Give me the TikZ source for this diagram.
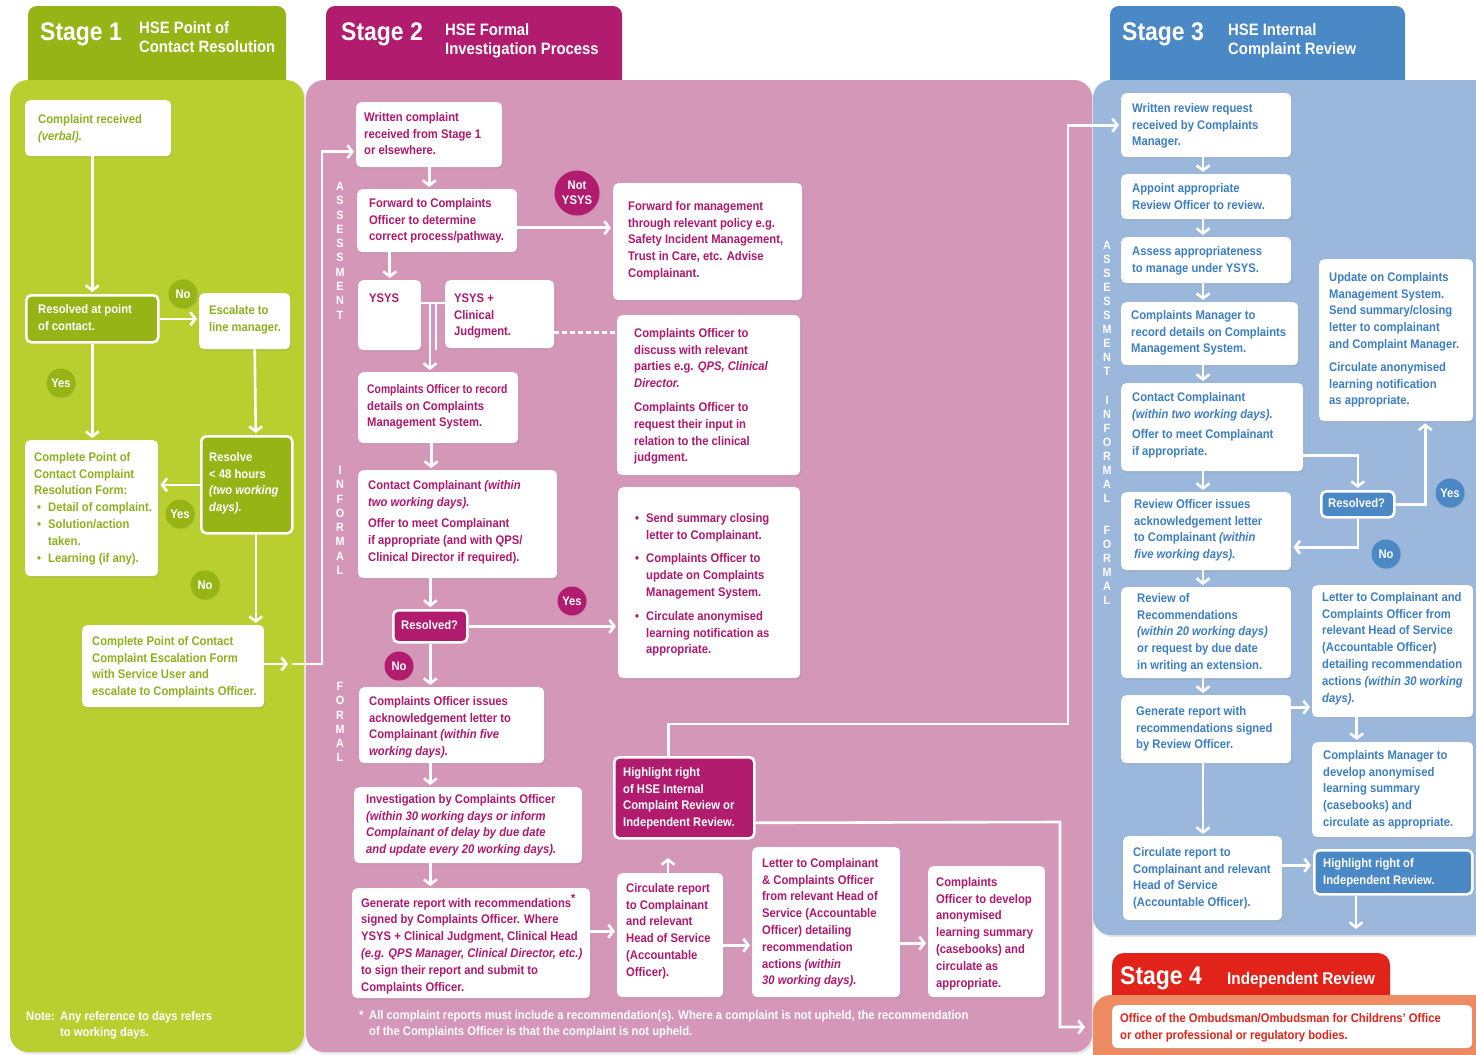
\documentclass[tikz,border=0pt]{standalone}
\usepackage{fontspec}
\setmainfont{Liberation Sans}[FakeStretch=0.9]
\usetikzlibrary{arrows.meta,calc,shadows}
\definecolor{c1h}{HTML}{97B416}
\definecolor{c1p}{HTML}{B9CF30}
\definecolor{c1t}{HTML}{8FB01E}
\definecolor{c2h}{HTML}{B21C6E}
\definecolor{c2p}{HTML}{D597B8}
\definecolor{c2t}{HTML}{B0186C}
\definecolor{c3h}{HTML}{4A88C6}
\definecolor{c3p}{HTML}{9BB7DC}
\definecolor{c3t}{HTML}{3C7EC3}
\definecolor{c4h}{HTML}{E2231A}
\definecolor{c4p}{HTML}{EE8B62}
\definecolor{c4t}{HTML}{E2231A}
\newcommand\bodyfont{\bfseries\fontsize{12.5}{16.8}\selectfont}
\newcommand\bl[1]{\makebox[14pt][l]{\hspace{3pt}\textbullet}#1}
\newcommand\ind{\hspace*{14pt}}
\def\tcol{c1t}
% box: [style]{name}{x1}{y1}{x2}{y2}{dx}{dy}{text}
\newcommand\mybox[9][]{%
  \node[wb,#1,minimum width={#5-#3},minimum height={#6-#4},anchor=north west] (#2) at (#3,#4) {};
  \node[bt,anchor=north west] (#2-t) at ({#3+#7},{#4+#8-11.76}) {\strut #9};
}
\begin{document}
\begin{tikzpicture}[x=1pt,y=-1pt,
  wb/.style={fill=white, rounded corners=5pt, inner sep=0pt, drop shadow={opacity=0.18, shadow xshift=1.2pt, shadow yshift=-1.5pt}},
  db/.style={draw=white, line width=2.6pt},
  bt/.style={inner sep=0pt, align=left, text=\tcol, font=\bodyfont},
  arr/.style={draw=white, line width=2.6pt, -{Straight Barb[length=5pt,width=13pt]}, shorten >=2pt},
  ln/.style={draw=white, line width=2.6pt},
  dsh/.style={draw=white, line width=2.6pt, dash pattern=on 5pt off 3pt},
  circ/.style={circle, minimum size=29pt, inner sep=0pt, text=white, align=center, font=\bodyfont, drop shadow={opacity=0.15, shadow xshift=1pt, shadow yshift=-1pt}},
  vlab/.style={inner sep=0pt, align=center, text=white, font=\bfseries\fontsize{12}{14.3}\selectfont, anchor=north},
  vlabb/.style={vlab, font=\bfseries\fontsize{12}{14}\selectfont},
  hbig/.style={inner sep=0pt, text=white, anchor=base west, font=\bfseries\fontsize{25.5}{30}\selectfont},
  hsub/.style={inner sep=0pt, text=white, anchor=north west, align=left, font=\bfseries\fontsize{16.5}{19}\selectfont},
  wtxt/.style={inner sep=0pt, text=white, anchor=north west, align=left, font=\bodyfont},
  pshadow/.style={drop shadow={opacity=0.2, shadow xshift=2pt, shadow yshift=-2pt}}
]
\useasboundingbox (0,0) rectangle (1476,1055);
\fill[white] (0,0) rectangle (1476,1055);

% ---------- headers ----------
\fill[c1h, rounded corners=9pt] (28,6) rectangle (286,100);
\fill[c2h, rounded corners=9pt] (326,6) rectangle (622,100);
\fill[c3h, rounded corners=9pt] (1110,6) rectangle (1405,100);
% ---------- panels ----------
\fill[c1p, rounded corners=18pt, pshadow] (10,80) rectangle (304,1052);
\fill[c2p, rounded corners=18pt, pshadow] (306,80) rectangle (1092,1052);
\fill[c3p, rounded corners=18pt, pshadow] (1093,80) rectangle (1530,935);
\fill[c4h, rounded corners=12pt] (1112,953) rectangle (1390,1010);
\fill[c4p, rounded corners=18pt] (1093,995) rectangle (1530,1075);

% header texts
\node[hbig] (h1a) at (40,40) {Stage 1};
\node[hsub] (h1b) at (139,19.7) {\strut HSE Point of\\Contact Resolution};
\node[hbig] (h2a) at (341,40) {Stage 2};
\node[hsub] (h2b) at (445,21.7) {\strut HSE Formal\\Investigation Process};
\node[hbig] (h3a) at (1122,40) {Stage 3};
\node[hsub] (h3b) at (1228,21.7) {\strut HSE Internal\\Complaint Review};
\node[hbig] (h4a) at (1120,984) {Stage 4};
\node[inner sep=0pt, text=white, anchor=base west, font=\bfseries\fontsize{17}{19}\selectfont] (h4b) at (1227,984) {Independent Review};

% ================= STAGE 1 =================
\def\tcol{c1t}
\mybox{c1}{25}{100}{171}{156}{13}{23}{Complaint received\\\textit{(verbal).}}
{\def\tcol{white}\mybox[db,fill=c1h]{r1}{25}{294}{157}{341}{13}{19}{Resolved at point\\of contact.}}
\mybox{e1}{199}{293}{290}{349}{10}{21}{Escalate to\\line manager.}
\mybox{f1}{25}{440}{158}{576}{9}{21}{Complete Point of\\Contact Complaint\\Resolution Form:\\\bl{Detail of complaint.}\\\bl{Solution/action}\\\ind taken.\\\bl{Learning (if any).}}
{\def\tcol{white}\mybox[db,fill=c1h]{rs}{200}{435}{291}{532}{9}{26}{Resolve\\< 48 hours\\\textit{(two working}\\\textit{days).}}}
\mybox{esc}{82}{625}{264}{707}{10}{20}{Complete Point of Contact\\Complaint Escalation Form\\with Service User and\\escalate to Complaints Officer.}

\node[circ,fill=c1h] (no1) at (183,294) {No};
\node[circ,fill=c1h] (yes1) at (61,383) {Yes};
\node[circ,fill=c1h] (yes2) at (180,514) {Yes};
\node[circ,fill=c1h] (no2) at (205,585) {No};

\draw[arr] (c1.south -| r1.north) -- (r1.north);
\draw[arr] (r1.east) -- (e1.west |- r1.east);
\draw[arr] (r1.south) -- (f1.north -| r1.south);
\draw[arr] ([xshift=10pt]e1.south) -- ([xshift=9pt]rs.north);
\draw[arr] (rs.west) -- (f1.east |- rs.west);
\draw[arr] ([xshift=9pt]rs.south) -- ([xshift=9pt]rs.south |- esc.north);
\coordinate (k1) at (290,664);
\coordinate (k2) at (292,664);
\draw[arr] (esc.east |- k1) -- (k1);

\node[wtxt] (note1) at (26,1008.2) {\strut Note:};
\node[wtxt] (note2) at (60,1008.2) {\strut Any reference to days refers\\to working days.};

% ================= STAGE 2 =================
\def\tcol{c2t}
\mybox{w1}{356}{102}{502}{167}{8}{19}{Written complaint\\received from Stage 1\\or elsewhere.}
\mybox{fw}{357}{189}{517}{252}{12}{18}{Forward to Complaints\\Officer to determine\\correct process/pathway.}
\mybox{fm}{613}{183}{802}{300}{15}{27}{Forward for management\\through relevant policy e.g.\\Safety Incident Management,\\Trust in Care, etc. Advise\\Complainant.}
\mybox{ysys}{358}{280}{421}{350}{11}{22}{YSYS}
\mybox{ysc}{445}{280}{554}{348}{9}{22}{YSYS +\\Clinical\\Judgment.}
\mybox{cod}{617}{315}{800}{475}{17}{22}{Complaints Officer to\\discuss with relevant\\parties e.g. \textit{QPS, Clinical}\\\textit{Director.}\\[7pt]Complaints Officer to\\request their input in\\relation to the clinical\\judgment.}
\mybox{rec}{358}{372}{518}{443}{9}{21}{\scalebox{0.92}[1]{Complaints Officer to record}\\details on Complaints\\Management System.}
\mybox{cc}{358}{470}{557}{578}{10}{19}{Contact Complainant \textit{(within}\\\textit{two working days).}\\[5pt]Offer to meet Complainant\\if appropriate (and with QPS/\\Clinical Director if required).}
{\def\tcol{white}\mybox[db,fill=c2h]{res}{392}{609}{466}{641}{9}{20}{Resolved?}}
\mybox{ss}{618}{487}{800}{678}{14}{35}{\bl{Send summary closing}\\\ind letter to Complainant.\\[7pt]\bl{Complaints Officer to}\\\ind update on Complaints\\\ind Management System.\\[7pt]\bl{Circulate anonymised}\\\ind learning notification as\\\ind appropriate.}
\mybox{ack}{359}{687}{544}{763}{10}{18}{Complaints Officer issues\\acknowledgement letter to\\Complainant \textit{(within five}\\\textit{working days).}}
\mybox{inv}{354}{787}{582}{863}{12}{16}{Investigation by Complaints Officer\\\textit{(within 30 working days or inform}\\\textit{Complainant of delay by due date}\\\textit{and update every 20 working days).}}
\mybox{gen}{352}{888}{590}{998}{9}{18}{Generate report with recommendations\textsuperscript{\large *}\\signed by Complaints Officer. Where\\YSYS + Clinical Judgment, Clinical Head\\\textit{(e.g. QPS Manager, Clinical Director, etc.)}\\to sign their report and submit to\\Complaints Officer.}
\mybox{cr2}{617}{873}{723}{997}{9}{19}{Circulate report\\to Complainant\\and relevant\\Head of Service\\(Accountable\\Officer).}
{\def\tcol{white}\mybox[db,fill=c2h]{hl}{613}{756}{753}{837}{10}{20}{Highlight right\\of HSE Internal\\Complaint Review or\\Independent Review.}}
\mybox{lt}{752}{847}{900}{997}{10}{20}{Letter to Complainant\\\& Complaints Officer\\from relevant Head of\\Service (Accountable\\Officer) detailing\\recommendation\\actions \textit{(within}\\\textit{30 working days).}}
\mybox{dev}{928}{866}{1045}{997}{8}{20}{Complaints\\Officer to develop\\anonymised\\learning summary\\(casebooks) and\\circulate as\\appropriate.}

\node[circ,fill=c2h,minimum size=45pt,font=\bfseries\fontsize{12.5}{15}\selectfont] (nys) at (577,193) {Not\\YSYS};
\node[circ,fill=c2h] (yes3) at (572,601) {Yes};
\node[circ,fill=c2h] (no3) at (399,666) {No};

\node[vlab] (va2) at (340,182) {A\\S\\S\\E\\S\\S\\M\\E\\N\\T};
\node[vlab] (vi2) at (340,466) {I\\N\\F\\O\\R\\M\\A\\L};
\node[vlab] (vf2) at (340,682) {F\\O\\R\\M\\A\\L};

% stage 1 -> stage 2 connector
\draw[arr] (k2) -- ++(30,0) |- ([yshift=-17pt]w1.west);

\draw[arr] (w1.south) -- (w1.south |- fw.north);
\draw[arr] (fw.south -| ysys.north) -- (ysys.north);
\coordinate (a1) at ([yshift=-7pt]fw.east);
\draw[arr] (a1) -- (a1 -| fm.west);
\coordinate (j1) at (433,303);
\draw[ln] (j1 -| ysys.east) -- (j1 -| ysc.west);
\draw[ln] ([xshift=-3pt]j1) -- ([xshift=-3pt]j1 |- ysys.south);
\draw[ln] ([xshift=3pt]j1) -- ([xshift=3pt]j1 |- ysys.south);
\draw[arr] ([xshift=-3pt]j1 |- ysys.south) -- ([xshift=-3pt]j1 |- rec.north);
\coordinate (d1) at ([yshift=-18pt]ysc.east);
\draw[dsh] (d1) -- (d1 -| cod.west);
\draw[arr] ([xshift=-7pt]rec.south) -- ([xshift=-7pt]rec.south |- cc.north);
\draw[arr] (res.north |- cc.south) -- (res.north);
\draw[arr] (res.east) -- (res.east -| ss.west);
\draw[arr] (res.south) -- (res.south |- ack.north);
\draw[arr] (ack.south -| res.south) -- (inv.north -| res.south);
\draw[arr] (inv.south -| res.south) -- (gen.north -| res.south);
\coordinate (g1) at ([yshift=12pt]gen.east);
\draw[arr] (g1) -- (g1 -| cr2.west);
\coordinate (up1) at (668,856);
\draw[arr] (cr2.north -| up1) -- (up1);
\coordinate (c2e) at ([yshift=-10pt]cr2.east);
\draw[arr] (c2e) -- (c2e -| lt.west);
\coordinate (l2e) at ([yshift=-21pt]lt.east);
\draw[arr] (l2e) -- (l2e -| dev.west);
\coordinate (r1c) at (1068,724);
\coordinate (r2c) at (1060,822);
\coordinate (s4in) at (1087,1027);

\node[wtxt] (fn1) at (359,1007.2) {\strut *};
\node[wtxt] (fn2) at (369,1007.2) {\strut All complaint reports must include a recommendation(s). Where a complaint is not upheld, the recommendation\\of the Complaints Officer is that the complaint is not upheld.};

% ================= STAGE 3 =================
\def\tcol{c3t}
\mybox{s3w}{1121}{93}{1291}{157}{11}{19}{Written review request\\received by Complaints\\Manager.}
\mybox{s3a}{1121}{174}{1291}{219}{11}{18}{Appoint appropriate\\Review Officer to review.}
\mybox{s3s}{1121}{237}{1291}{283}{11}{18}{Assess appropriateness\\to manage under YSYS.}
\mybox{s3c}{1121}{302}{1298}{365}{10}{17}{Complaints Manager to\\record details on Complaints\\Management System.}
\mybox{s3k}{1121}{383}{1303}{471}{11}{18}{Contact Complainant\\\textit{(within two working days).}\\[4pt]Offer to meet Complainant\\if appropriate.}
\mybox{s3r}{1121}{492}{1291}{570}{13}{16}{Review Officer issues\\acknowledgement letter\\to Complainant \textit{(within}\\\textit{five working days).}}
\mybox{s3v}{1121}{587}{1291}{678}{16}{15}{Review of\\Recommendations\\\textit{(within 20 working days)}\\or request by due date\\in writing an extension.}
\mybox{s3g}{1121}{695}{1291}{763}{15}{20}{Generate report with\\recommendations signed\\by Review Officer.}
\mybox{s3ci}{1123}{836}{1282}{920}{10}{20}{Circulate report to\\Complainant and relevant\\Head of Service\\(Accountable Officer).}
{\def\tcol{white}\mybox[db,fill=c3h]{s3hl}{1313}{849}{1471}{893}{10}{18}{Highlight right of\\Independent Review.}}
\mybox{s3u}{1319}{259}{1473}{421}{10}{22}{Update on Complaints\\Management System.\\Send summary/closing\\letter to complainant\\and Complaint Manager.\\[6pt]Circulate anonymised\\learning notification\\as appropriate.}
{\def\tcol{white}\mybox[db,fill=c3h]{s3res}{1320}{490}{1393}{516}{8}{17}{Resolved?}}
\mybox{s3l}{1312}{585}{1473}{717}{10}{16}{Letter to Complainant and\\Complaints Officer from\\relevant Head of Service\\(Accountable Officer)\\detailing recommendation\\actions \textit{(within 30 working}\\\textit{days).}}
\mybox{s3m}{1312}{742}{1473}{837}{11}{17}{Complaints Manager to\\develop anonymised\\learning summary\\(casebooks) and\\circulate as appropriate.}

\node[circ,fill=c3h] (yes4) at (1450,493) {Yes};
\node[circ,fill=c3h] (no4) at (1386,554) {No};

\node[vlabb] (va3) at (1107,241) {A\\S\\S\\E\\S\\S\\M\\E\\N\\T};
\node[vlabb] (vi3) at (1107,396) {I\\N\\F\\O\\R\\M\\A\\L};
\node[vlabb] (vf3) at (1107,526) {F\\O\\R\\M\\A\\L};

\coordinate (cx3) at (1203,0);
\draw[arr] (s3w.south -| cx3) -- (s3a.north -| cx3);
\draw[arr] (s3a.south -| cx3) -- (s3s.north -| cx3);
\draw[arr] (s3s.south -| cx3) -- (s3c.north -| cx3);
\draw[arr] (s3c.south -| cx3) -- (s3k.north -| cx3);
\draw[arr] (s3k.south -| cx3) -- (s3r.north -| cx3);
\draw[arr] (s3r.south -| cx3) -- (s3v.north -| cx3);
\draw[arr] (s3v.south -| cx3) -- (s3g.north -| cx3);
\draw[arr] (s3g.south -| cx3) -- (s3ci.north -| cx3);
\draw[arr] ([yshift=-28pt]s3k.east) -| (s3res.north);
\draw[arr] (s3res.east) -| ([xshift=29pt]s3u.south);
\draw[arr] (s3res.south) |- ([yshift=-16pt]s3r.east);
\coordinate (g3) at ([yshift=22pt]s3g.east);
\draw[arr] (g3) -- (g3 -| s3l.west);
\draw[arr] ([xshift=-36pt]s3l.south) -- ([xshift=-36pt]s3l.south |- s3m.north);
\coordinate (c3e) at ([yshift=13pt]s3ci.east);
\draw[arr] (c3e) -- (c3e -| s3hl.west);
\coordinate (s3out) at (1356,931);
\draw[arr] (s3hl.south -| s3out) -- (s3out);

% stage 2 -> stage 3 / stage 4 connectors
\draw[arr] ([xshift=-16pt]hl.north) |- (r1c) |- (s3w.west);
\draw[arr] ([yshift=-25pt]hl.east) -- (r2c) |- (s4in);

% ================= STAGE 4 =================
\def\tcol{c4t}
\mybox{s4b}{1112}{1005}{1472}{1048}{8}{17}{Office of the Ombudsman/Ombudsman for Childrens' Office\\or other professional or regulatory bodies.}
\end{tikzpicture}
\end{document}
